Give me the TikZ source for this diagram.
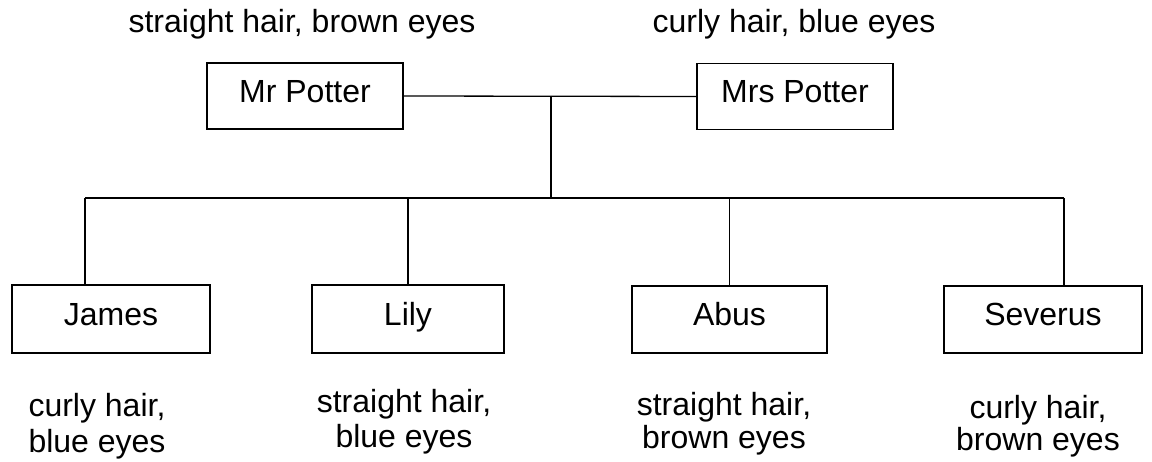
\documentclass[tikz,border=0pt]{standalone}
\usepackage{fontspec}
\setmainfont{Liberation Sans}
\begin{document}
\begin{tikzpicture}[x=1pt,y=-1pt,
  line width=1.3pt,
  person/.style={draw, rectangle, inner sep=0pt, minimum height=66pt, text height=21.5pt, text depth=8.5pt, font=\fontsize{32}{35}\selectfont},
  lbl/.style={inner sep=0pt, anchor=base, font=\fontsize{32}{35}\selectfont}]
\useasboundingbox (0,0) rectangle (1152,462);
\node[person, minimum width=196pt] (mr) at (305,96) {Mr Potter};
\node[person, minimum width=196pt] (mrs) at (795,96.5) {Mrs Potter};
\node[person, minimum width=198pt, minimum height=68pt] (james) at (111,319) {James};
\node[person, minimum width=192pt, minimum height=68pt] (lily) at (408,319) {Lily};
\node[person, minimum width=195pt, minimum height=67pt] (abus) at (729.5,319.5) {Abus};
\node[person, minimum width=198pt, minimum height=67pt] (severus) at (1043,319.5) {Severus};
\coordinate (mid) at (551,97);
\coordinate (bus) at (551,198);
\coordinate (jt) at (85,198);
\coordinate (st) at (1064,198);
\draw (mr.east) -- (mrs.west);
\draw (mid) -- (bus);
\draw (jt) -- (st);
\draw (jt) -- (jt |- james.north);
\draw (lily.north |- bus) -- (lily.north);
\draw (abus.north |- bus) -- (abus.north);
\draw (st) -- (st |- severus.north);
\node[lbl] (tl) at (302,33) {straight hair, brown eyes};
\node[lbl] (tr) at (794,33) {curly hair, blue eyes};
\node[lbl] (j1) at (97,417) {curly hair,};
\node[lbl] (j2) at (97,452) {blue eyes};
\node[lbl] (l1) at (404,413) {straight hair,};
\node[lbl] (l2) at (404,447) {blue eyes};
\node[lbl] (a1) at (724,415) {straight hair,};
\node[lbl] (a2) at (724,448) {brown eyes};
\node[lbl] (s1) at (1038,418) {curly hair,};
\node[lbl] (s2) at (1038,450) {brown eyes};
\end{tikzpicture}
\end{document}
